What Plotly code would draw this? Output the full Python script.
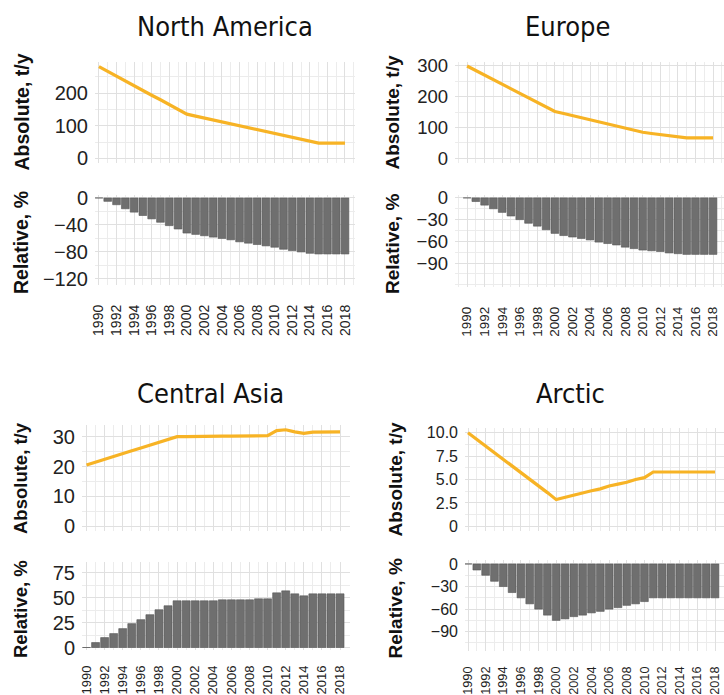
import plotly.graph_objects as go

years = list(range(1990, 2019))
xtick_vals = list(range(1990, 2019, 2))
xtick_text = [str(y) for y in xtick_vals]

regions = ["North America", "Europe", "Central Asia", "Arctic"]

na_abs = [282, 267, 253, 238, 224, 209, 194, 180, 165, 151, 136, 130, 124, 118, 112,
          106, 99, 93, 87, 81, 75, 69, 63, 57, 52, 47, 47, 47, 47]
na_rel = [0, -5, -10, -16, -21, -26, -31, -36, -41, -46, -52, -54, -56, -58, -60,
          -62, -65, -67, -69, -71, -73, -76, -78, -80, -82, -83, -83, -83, -83]

eu_abs = [300, 285, 270, 256, 241, 226, 211, 196, 182, 167, 152, 145, 138, 132, 125,
          118, 111, 104, 97, 91, 84, 80, 77, 73, 70, 66, 66, 66, 66]
eu_rel = [0, -5, -10, -15, -20, -25, -30, -35, -39, -44, -49, -52, -54, -56, -58,
          -61, -63, -65, -68, -70, -72, -73, -74, -76, -77, -78, -78, -78, -78]

ca_abs = [20.5, 21.5, 22.4, 23.4, 24.3, 25.3, 26.2, 27.2, 28.1, 29.1, 30.0, 30.0, 30.1,
          30.1, 30.1, 30.2, 30.2, 30.2, 30.3, 30.3, 30.3, 32.0, 32.3, 31.6, 31.1, 31.5,
          31.6, 31.6, 31.6]
ca_rel = [0, 5, 10, 14, 19, 24, 28, 33, 38, 42, 47, 47, 47, 47, 47, 48, 48, 48, 48, 49,
          49, 55, 57, 54, 52, 54, 54, 54, 54]

ar_abs = [10.0, 9.3, 8.6, 7.9, 7.1, 6.4, 5.7, 5.0, 4.3, 3.6, 2.85, 3.1, 3.3, 3.6, 3.8,
          4.0, 4.3, 4.5, 4.7, 5.0, 5.2, 5.8, 5.8, 5.8, 5.8, 5.8, 5.8, 5.8, 5.8]
ar_rel = [0, -8, -15, -23, -30, -38, -45, -53, -60, -68, -75, -73, -70, -68, -65, -63,
          -60, -58, -55, -53, -50, -45, -45, -45, -45, -45, -45, -45, -45]

abs_tick_vals = {
    "North America": [0, 100, 200],
    "Europe": [0, 100, 200, 300],
    "Central Asia": [0, 10, 20, 30],
    "Arctic": [0, 2.5, 5.0, 7.5, 10.0],
}
abs_tick_text = {
    "North America": ["0", "100", "200"],
    "Europe": ["0", "100", "200", "300"],
    "Central Asia": ["0", "10", "20", "30"],
    "Arctic": ["0", "2.5", "5.0", "7.5", "10.0"],
}
rel_tick_vals = {
    "North America": [0, -40, -80, -120],
    "Europe": [0, -30, -60, -90],
    "Central Asia": [0, 25, 50, 75],
    "Arctic": [0, -30, -60, -90],
}

data = {
    "North America": (na_abs, na_rel),
    "Europe": (eu_abs, eu_rel),
    "Central Asia": (ca_abs, ca_rel),
    "Arctic": (ar_abs, ar_rel),
}

W, H = 724, 695
LINE_COLOR = "#F7B325"
BAR_COLOR = "#6f6f6f"
GRID_MAJOR = "#e0e0e0"
GRID_MINOR = "#ececec"
TICK_FONT = "Liberation Sans, Arial, sans-serif"
TITLE_FONT = "Tahoma, 'DejaVu Sans Condensed', 'DejaVu Sans', sans-serif"

spec = {
    "North America": dict(px=(95, 355), line_y=(62, 163), bar_y=(195, 285),
                          xr=(1989.55, 2019.14), yl=(-14, 296), yb=(-129, 4.4),
                          lminor=50, bminor=20, tfs=20, xfs=14,
                          title=(225, 26), ytx=21, ytfs=19.5, xstand=16),
    "Europe": dict(px=(455, 724), line_y=(62, 163), bar_y=(195, 287),
                   xr=(1988.63, 2019.25), yl=(-16, 313), yb=(-123, 4),
                   lminor=50, bminor=15, tfs=18.5, xfs=13.5,
                   title=(567, 26), ytx=392, ytfs=19, xstand=16),
    "Central Asia": dict(px=(82, 350), line_y=(425, 531), bar_y=(562, 650),
                         xr=(1989.5, 2019.1), yl=(-1.6, 33.9), yb=(-2.5, 86),
                         lminor=5, bminor=12.5, tfs=20, xfs=13,
                         title=(210, 393), ytx=20, ytfs=18.5, xstand=12),
    "Arctic": dict(px=(465, 724), line_y=(428, 531), bar_y=(560, 651),
                   xr=(1989.66, 2019.02), yl=(-0.5, 10.5), yb=(-115.7, 5.3),
                   lminor=1.25, bminor=15, tfs=16, xfs=12.7,
                   title=(570, 393), ytx=395, ytfs=19, xstand=12),
}

fig = go.Figure()
layout = dict(width=W, height=H, margin=dict(l=0, r=0, t=0, b=0, pad=0, autoexpand=False),
              paper_bgcolor="white", plot_bgcolor="white", showlegend=False,
              autosize=False, bargap=0.12, annotations=[], template="none")


def xdom(p):
    return [p[0] / W, min(1.0, p[1] / W)]


def ydom(p):
    return [1 - p[1] / H, 1 - p[0] / H]


ax = 1
for name in regions:
    s = spec[name]
    a, r = data[name]
    xa, ya = f"x{ax}", f"y{ax}"
    fig.add_trace(go.Scatter(x=years, y=a, mode="lines",
                             line=dict(color=LINE_COLOR, width=3.2),
                             xaxis=xa, yaxis=ya, hoverinfo="skip"))
    layout[f"xaxis{ax}"] = dict(domain=xdom(s["px"]), anchor=ya, range=list(s["xr"]),
                                tickmode="linear", tick0=1990, dtick=2, ticks="",
                                showticklabels=False, showgrid=True, automargin=False,
                                gridcolor=GRID_MAJOR, gridwidth=1.2, zeroline=False,
                                minor=dict(dtick=1, tick0=1990, showgrid=True, ticks="",
                                           gridcolor=GRID_MINOR, gridwidth=0.7),
                                showline=False, fixedrange=True)
    layout[f"yaxis{ax}"] = dict(domain=ydom(s["line_y"]), anchor=xa, range=list(s["yl"]),
                                tickvals=abs_tick_vals[name], ticktext=abs_tick_text[name],
                                showgrid=True, gridcolor=GRID_MAJOR, gridwidth=1.2,
                                zeroline=False, automargin=False, ticks="",
                                minor=dict(dtick=s["lminor"], tick0=0, showgrid=True, ticks="",
                                           gridcolor=GRID_MINOR, gridwidth=0.7),
                                tickfont=dict(family=TICK_FONT, size=s["tfs"], color="#222222"),
                                ticklabelstandoff=6, showline=False, fixedrange=True)
    ax += 1
    xb, yb = f"x{ax}", f"y{ax}"
    fig.add_trace(go.Bar(x=years, y=r, marker=dict(color=BAR_COLOR,
                                                   line=dict(color="#555555", width=0.6)),
                         xaxis=xb, yaxis=yb, hoverinfo="skip"))
    layout[f"xaxis{ax}"] = dict(domain=xdom(s["px"]), anchor=yb, range=list(s["xr"]),
                                tickvals=xtick_vals, ticktext=xtick_text, tickangle=-90,
                                tickfont=dict(family=TICK_FONT, size=s["xfs"], color="#222222"),
                                ticklabelstandoff=s["xstand"], ticks="", automargin=False,
                                showgrid=True, gridcolor=GRID_MAJOR, gridwidth=1.2,
                                zeroline=False,
                                minor=dict(dtick=1, tick0=1990, showgrid=True, ticks="",
                                           gridcolor=GRID_MINOR, gridwidth=0.7),
                                showline=False, fixedrange=True)
    layout[f"yaxis{ax}"] = dict(domain=ydom(s["bar_y"]), anchor=xb, range=list(s["yb"]),
                                tickvals=rel_tick_vals[name], ticks="", automargin=False,
                                showgrid=True, gridcolor=GRID_MAJOR, gridwidth=1.2,
                                zeroline=False,
                                minor=dict(dtick=s["bminor"], tick0=0, showgrid=True, ticks="",
                                           gridcolor=GRID_MINOR, gridwidth=0.7),
                                tickfont=dict(family=TICK_FONT, size=s["tfs"], color="#222222"),
                                ticklabelstandoff=6, showline=False, fixedrange=True)
    ax += 1

    tx, ty = s["title"]
    layout["annotations"].append(dict(text=name, x=tx / W, y=1 - ty / H, xref="paper",
                                      yref="paper", showarrow=False, xanchor="center",
                                      yanchor="middle",
                                      font=dict(family=TITLE_FONT, size=27, color="#111111")))
    ly = (s["line_y"][0] + s["line_y"][1]) / 2
    by = (s["bar_y"][0] + s["bar_y"][1]) / 2 + 3
    for txt, cy in (("<b>Absolute, t/y</b>", ly), ("<b>Relative, %</b>", by)):
        layout["annotations"].append(dict(text=txt, x=s["ytx"] / W, y=1 - cy / H,
                                          xref="paper", yref="paper", showarrow=False,
                                          textangle=-90, xanchor="center", yanchor="middle",
                                          font=dict(family=TICK_FONT, size=s["ytfs"],
                                                    color="#111111")))

fig.update_layout(**layout)
fig.write_html("out.html", config={"displayModeBar": False},
               post_script="document.body.style.margin='0px';"
                           "document.body.style.overflow='hidden';")
